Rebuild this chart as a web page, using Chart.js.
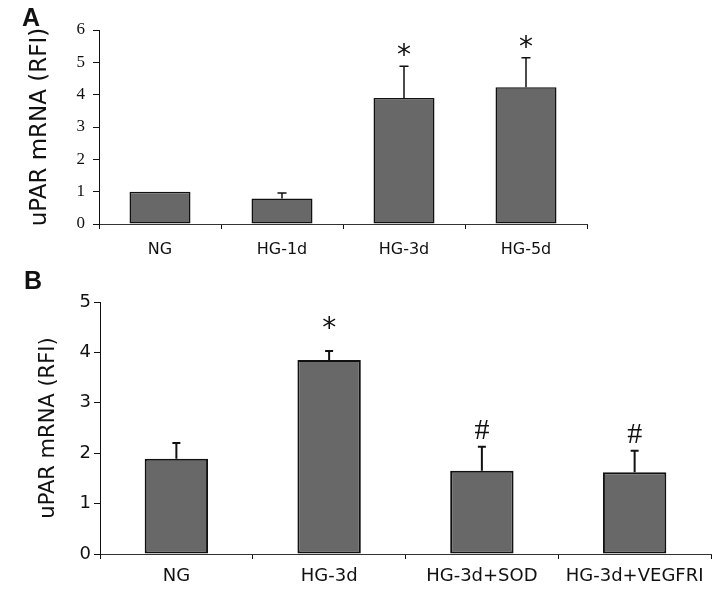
<!DOCTYPE html>
<html>
<head>
<meta charset="utf-8">
<script src="https://cdn.jsdelivr.net/npm/chart.js@4/dist/chart.umd.min.js"></script>
<style>
  html, body { margin: 0; padding: 0; background: #ffffff; }
  #wrap { position: relative; width: 721px; height: 594px; overflow: hidden; background: #fff; }
  canvas { position: absolute; left: 0; }
  #cA { top: 0; }
  #cB { top: 270px; }
  .lbl { position: absolute; font-family: 'Liberation Sans', Arial, sans-serif; font-weight: bold; font-size: 25px; line-height: 25px; color: #111; }
</style>
</head>
<body>
<div id="wrap">
  <canvas id="cA" width="721" height="270"></canvas>
  <canvas id="cB" width="721" height="324"></canvas>
  <div class="lbl" style="left:22px; top:5px;">A</div>
  <div class="lbl" style="left:24px; top:268px;">B</div>
</div>
<script>
// ---- Panel A data ----
const categoriesA = ['NG', 'HG-1d', 'HG-3d', 'HG-5d'];
const valuesA = [1.00, 0.79, 3.90, 4.23];
const errorsA = [0, 0.17, 0.98, 0.91];
const marksA = ['', '', '*', '*'];
const ticksA = [0, 1, 2, 3, 4, 5, 6];

// ---- Panel B data ----
const categoriesB = ['NG', 'HG-3d', 'HG-3d+SOD', 'HG-3d+VEGFRI'];
const valuesB = [1.89, 3.85, 1.65, 1.62];
const errorsB = [0.31, 0.18, 0.48, 0.43];
const marksB = ['', '*', '#', '#'];
const ticksB = [0, 1, 2, 3, 4, 5];

const axisTitle = 'uPAR mRNA (RFI)';

const errMarks = {
  id: 'errMarks',
  afterDatasetsDraw(chart, args, opts) {
    const ctx = chart.ctx;
    const ds = chart.data.datasets[0];
    const meta = chart.getDatasetMeta(0);
    const ys = chart.scales.y;
    ds.data.forEach((v, i) => {
      const bar = meta.data[i];
      const x = bar.x;
      let top = ys.getPixelForValue(v);
      const e = opts.errors[i];
      ctx.save();
      if (e) {
        const yt = ys.getPixelForValue(v + e);
        ctx.strokeStyle = '#111';
        ctx.lineWidth = opts.lineWidth;
        ctx.beginPath();
        ctx.moveTo(x, top);
        ctx.lineTo(x, yt);
        ctx.moveTo(x - opts.cap / 2, yt);
        ctx.lineTo(x + opts.cap / 2, yt);
        ctx.stroke();
        top = yt;
      }
      const m = opts.marks[i];
      if (m) {
        ctx.font = opts.fonts[m];
        ctx.fillStyle = '#111';
        ctx.textAlign = 'center';
        ctx.textBaseline = 'alphabetic';
        const mt = ctx.measureText(m);
        const baseline = top - opts.gaps[m] - mt.actualBoundingBoxDescent;
        ctx.fillText(m, x, baseline);
      }
      ctx.restore();
    });
  }
};

function makeChart(id, cats, vals, errs, marks, ticks, cfg) {
  const tmin = ticks[0], tmax = ticks[ticks.length - 1];
  return new Chart(document.getElementById(id), {
    type: 'bar',
    data: {
      labels: cats,
      datasets: [{
        data: vals,
        backgroundColor: '#686868',
        borderColor: '#111',
        borderWidth: cfg.barBorder,
        borderSkipped: false,
        barPercentage: cfg.barPct,
        categoryPercentage: 1.0
      }]
    },
    options: {
      responsive: false,
      animation: false,
      devicePixelRatio: 1,
      events: [],
      layout: { padding: { left: 0, right: cfg.padRight, top: cfg.padTop, bottom: 0 } },
      plugins: {
        legend: { display: false },
        tooltip: { enabled: false },
        errMarks: {
          errors: errs, marks: marks, lineWidth: cfg.errLine, cap: cfg.cap,
          gaps: cfg.gaps, fonts: cfg.markFonts
        }
      },
      scales: {
        x: {
          offset: true,
          grid: { drawOnChartArea: false, drawTicks: true, tickLength: 5, color: '#111', offset: true },
          border: { color: '#333', width: 1 },
          ticks: { color: '#111', font: { family: 'DejaVu Sans', size: cfg.xFont }, padding: cfg.xPad, maxRotation: 0, autoSkip: false },
          afterFit(s) { s.height = cfg.xHeight; }
        },
        y: {
          min: tmin, max: tmax,
          afterBuildTicks(s) { s.ticks = ticks.map(v => ({ value: v })); },
          grid: { drawOnChartArea: false, drawTicks: true, tickLength: 6, color: '#111' },
          border: { color: '#111', width: 1 },
          ticks: { color: '#111', font: cfg.yFont, padding: cfg.yPad },
          title: {
            display: true, text: axisTitle, color: '#111',
            font: { family: 'DejaVu Sans', size: cfg.titleSize, lineHeight: 1 },
            padding: { top: cfg.titlePad, bottom: 0 }
          },
          afterFit(s) { s.width = cfg.yWidth; }
        }
      }
    },
    plugins: [errMarks]
  });
}

makeChart('cA', categoriesA, valuesA, errorsA, marksA, ticksA, {
  barBorder: 1.5, barPct: 0.5, padRight: 134, padTop: 30,
  errLine: 1.5, cap: 9, gaps: { '*': 9, '#': 8 },
  markFonts: { '*': '28px "DejaVu Sans"', '#': '30px "Liberation Serif"' },
  xFont: 16, xPad: 11, xHeight: 46,
  yFont: { family: 'Liberation Serif', size: 17 }, yPad: 8,
  titleSize: 23, titlePad: 29, yWidth: 99
});

makeChart('cB', categoriesB, valuesB, errorsB, marksB, ticksB, {
  barBorder: 2, barPct: 0.415, padRight: 10, padTop: 32,
  errLine: 2, cap: 8, gaps: { '*': 21, '#': 8 },
  markFonts: { '*': '28px "DejaVu Sans"', '#': '30px "Liberation Serif"' },
  xFont: 18, xPad: 7, xHeight: 40,
  yFont: { family: 'DejaVu Sans', size: 18 }, yPad: 3,
  titleSize: 21, titlePad: 38, yWidth: 100
});
</script>
</body>
</html>
